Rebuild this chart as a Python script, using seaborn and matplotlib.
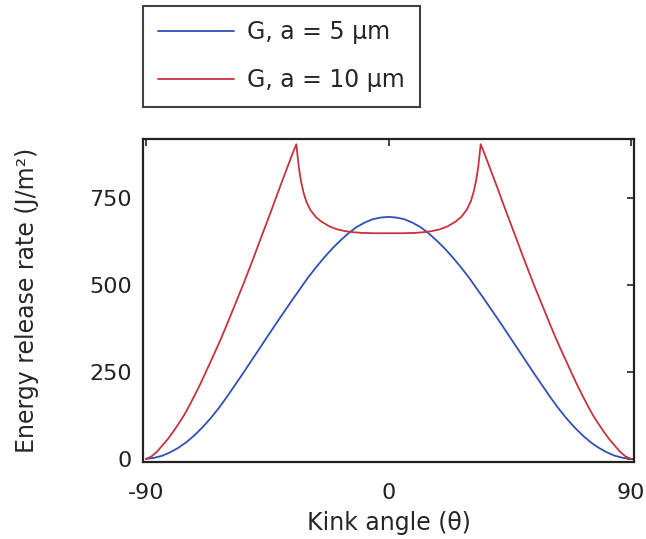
import numpy as np
import pandas as pd
import matplotlib
matplotlib.use("Agg")
import matplotlib.pyplot as plt
import seaborn as sns

# kink angle (deg) and energy release rate (J/m^2)
blue_x = [-90, -87, -84, -81, -78, -75, -72, -69, -66, -63, -60, -57, -54, -51, -48, -45, -42, -39,
          -36, -33, -30, -27, -24, -21, -18, -15, -12, -9, -6, -3, 0,
          3, 6, 9, 12, 15, 18, 21, 24, 27, 30, 33, 36, 39, 42, 45, 48, 51, 54, 57, 60, 63, 66, 69,
          72, 75, 78, 81, 84, 87, 90]
blue_y = [0, 3, 9, 19, 32, 48, 68, 91, 117, 146, 178, 212, 246, 281, 316, 351, 386, 420,
          454, 487, 520, 550, 578, 604, 627, 648, 666, 679, 689, 694, 696,
          694, 689, 679, 666, 648, 627, 604, 578, 550, 520, 487, 454, 420, 386, 351, 316, 281, 246, 212, 178, 146, 117, 91,
          68, 48, 32, 19, 9, 3, 0]

red_x = [-90, -88, -86, -84, -82, -80, -78, -76, -74, -72, -70, -68, -66, -64, -62, -60, -58, -56,
         -54, -52, -50, -48, -46, -44, -42, -40, -38, -36, -35, -34.2, -33.8, -33.3, -32.5, -31.5,
         -30.5, -29, -27, -25, -22, -19, -16, -13, -10, -5, 0,
         5, 10, 13, 16, 19, 22, 25, 27, 29, 30.5, 31.5, 32.5, 33.3, 33.8, 34.2, 35, 36, 38, 40,
         42, 44, 46, 48, 50, 52, 54, 56, 58, 60, 62, 64, 66, 68, 70, 72, 74, 76, 78, 80, 82, 84,
         86, 88, 90]
red_y = [0, 7, 20, 38, 56, 77, 100, 124, 152, 182, 213, 246, 280, 314, 349, 386, 424, 462,
         500, 540, 580, 622, 663, 704, 746, 788, 829, 870, 890, 905, 875, 840, 800, 765,
         740, 716, 696, 683, 669, 660, 655, 652, 650, 649, 649,
         649, 650, 652, 655, 660, 669, 683, 696, 716, 740, 765, 800, 840, 875, 905, 890, 870, 829, 788,
         746, 704, 663, 622, 580, 540, 500, 462, 424, 386, 349, 314, 280, 246, 213, 182, 152, 124, 100, 77, 56, 38,
         20, 7, 0]

labels = ["G, a = 5 \u03bcm", "G, a = 10 \u03bcm"]
colors = ["#3050b4", "#c8323c"]

df = pd.concat([
    pd.DataFrame({"angle": blue_x, "G": blue_y, "series": labels[0]}),
    pd.DataFrame({"angle": red_x, "G": red_y, "series": labels[1]}),
])

sns.set_style("white")
plt.rcParams["font.family"] = ["DejaVu Sans"]
plt.rcParams["axes.unicode_minus"] = False

fig = plt.figure(figsize=(6.46, 5.39), dpi=100)
ax = fig.add_axes([0.2214, 0.1428, 0.760, 0.5993])

sns.lineplot(data=df, x="angle", y="G", hue="series", palette=colors,
             sort=False, estimator=None, linewidth=1.3, ax=ax)

ax.set_xlim(-91.1, 91.1)
ax.set_ylim(-9, 920)
ax.set_xticks([-90, 0, 90])
ax.set_yticks([0, 250, 500, 750])
ax.tick_params(direction="in", length=5, width=1.2, top=True, right=True,
               labelsize=16, colors="#222222")
ax.tick_params(axis="x", pad=15)
ax.tick_params(axis="y", pad=8)
for s in ax.spines.values():
    s.set_linewidth(1.6)
    s.set_color("#222222")

ax.set_xlabel("Kink angle (\u03b8)", fontsize=17, labelpad=6)
ax.set_ylabel("Energy release rate (J/m\u00b2)", fontsize=17, labelpad=36)

leg = ax.legend(loc="lower left", bbox_to_anchor=(0.0, 1.1), fontsize=17,
                frameon=True, fancybox=False, handlelength=3.25, labelspacing=1.0,
                borderpad=0.62, handletextpad=0.55, borderaxespad=0)
leg.get_frame().set_edgecolor("#111111")
leg.get_frame().set_linewidth(1.5)

fig.savefig("out.png", dpi=100)
